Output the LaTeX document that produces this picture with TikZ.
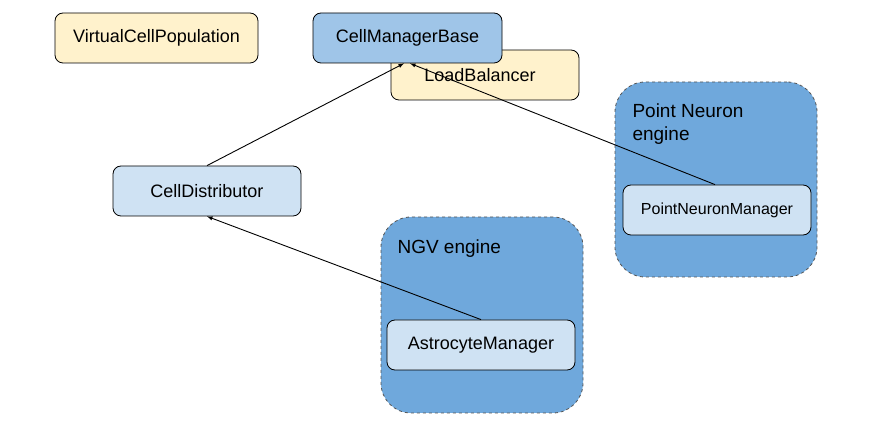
\documentclass[tikz,border=0pt]{standalone}
\usepackage{fontspec}
\setmainfont{Liberation Sans}
\usepackage{tikz}
\usetikzlibrary{calc}
\definecolor{paleyellow}{HTML}{FFF2CC}
\definecolor{midblue}{HTML}{9FC5E8}
\definecolor{paleblue}{HTML}{CFE2F3}
\definecolor{engineblue}{HTML}{6FA8DC}
\definecolor{edgegray}{HTML}{555555}

\begin{document}
\begin{tikzpicture}[x=1pt,y=-1pt,>=latex,
    cls/.style={draw=black,line width=0.8pt,rounded corners=8,minimum height=50,
        font=\fontsize{18}{21}\selectfont},
    engine/.style={draw=edgegray,dashed,line width=0.8pt,fill=engineblue,rounded corners=30},
    enginelabel/.style={anchor=north west,align=left,font=\fontsize{19}{23}\selectfont}]
            \useasboundingbox (0,0) rectangle (873,427);
            % classes on top
            \node[cls,fill=paleyellow,minimum width=203] (vcp) at (156.5,38){VirtualCellPopulation};
            \node[cls,fill=paleyellow,minimum width=188] (lb) at (485,75){\hspace*{-10pt}LoadBalancer};
            \node[cls,fill=midblue,minimum width=189] (cmb) at (407.5,38){CellManagerBase};
            \node[cls,fill=paleblue,minimum width=188] (cd) at (207,191){CellDistributor};
            % engines
            \node[engine,minimum width=202,minimum height=195] (pne) at (716,179.5){};
            \node[enginelabel] (pnl) at (629,100){Point Neuron\\engine};
            \node[cls,fill=paleblue,minimum width=188,font=\fontsize{16}{19}\selectfont] (pnm) at (717,210){PointNeuronManager};
            \node[engine,minimum width=202,minimum height=196] (ngv) at (482,315){};
            \node[enginelabel] (ngvl) at (394,236){NGV engine};
            \node[cls,fill=paleblue,minimum width=188] (am) at (481,345){AstrocyteManager};
            % inheritance
            \draw[->,line width=0.9pt](cd.north)--([xshift=-3.5]cmb.south);
            \draw[->,line width=0.9pt]([xshift=-2]pnm.north)--([xshift=2.5]cmb.south);
            \draw[->,line width=0.9pt](am.north)--(cd.south);
        \end{tikzpicture}
\end{document}
